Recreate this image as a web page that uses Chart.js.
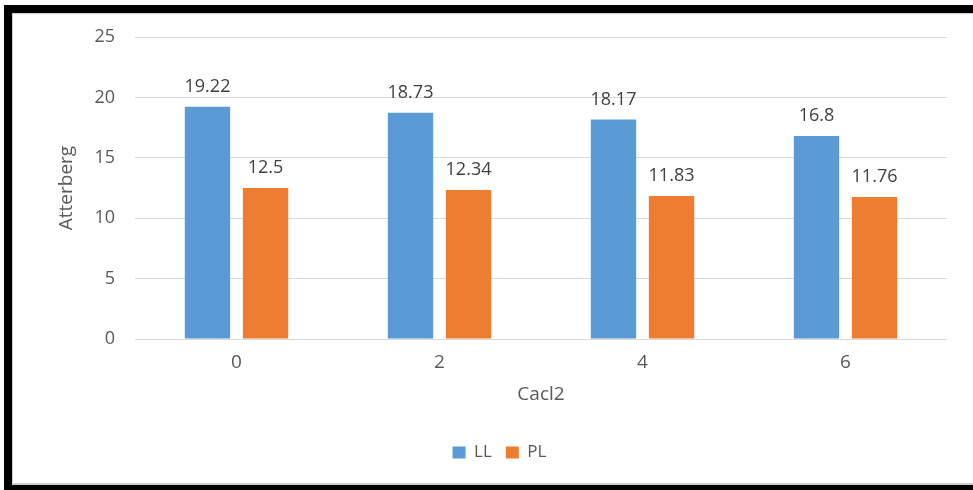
<!DOCTYPE html>
<html><head><meta charset="utf-8">
<script src="https://cdn.jsdelivr.net/npm/chart.js@4"></script>
<style>
html,body{margin:0;padding:0;background:#fff;}
#wrap{position:relative;width:973px;height:490px;overflow:hidden;background:#fff;}
canvas{position:absolute;left:0;top:0;}
#frame{position:absolute;left:4px;top:5px;width:990px;height:485px;box-sizing:border-box;border-top:8px solid #000;border-left:8px solid #000;border-bottom:5px solid #000;box-shadow:inset 1px 1px 0 #d0d0d0, inset 0 -2px 0 #d0d0d0;pointer-events:none;}
</style></head>
<body><div id="wrap"><canvas id="c" width="973" height="490"></canvas><div id="frame"></div></div>
<script>
const categories = ['0', '2', '4', '6'];
const llValues = [19.22, 18.73, 18.17, 16.8];
const plValues = [12.5, 12.34, 11.83, 11.76];
const seriesNames = ['LL', 'PL'];
const yAxisTitle = 'Atterberg';
const xAxisTitle = 'Cacl2';
const yMin = 0, yMax = 25, yStep = 5;

const FONT = '"Open Sans", "Noto Sans", sans-serif';
const TEXT = '#595959';

const valueLabels = {
  id: 'valueLabels',
  afterDatasetsDraw(chart) {
    const ctx = chart.ctx;
    ctx.save();
    ctx.font = '18px ' + FONT;
    ctx.fillStyle = '#404040';
    ctx.textAlign = 'center';
    ctx.textBaseline = 'alphabetic';
    chart.data.datasets.forEach((ds, i) => {
      const meta = chart.getDatasetMeta(i);
      meta.data.forEach((bar, j) => {
        ctx.fillText(String(ds.data[j]), bar.x, bar.y - 15);
      });
    });
    ctx.restore();
  }
};

new Chart(document.getElementById('c'), {
  type: 'bar',
  data: {
    labels: categories,
    datasets: [
      { label: seriesNames[0], data: llValues, backgroundColor: '#5B9BD5', categoryPercentage: 0.572, barPercentage: 0.781 },
      { label: seriesNames[1], data: plValues, backgroundColor: '#ED7D31', categoryPercentage: 0.572, barPercentage: 0.781 }
    ]
  },
  options: {
    responsive: false,
    animation: false,
    devicePixelRatio: 1,
    layout: { padding: { left: 52, right: 26, top: 37, bottom: 19 } },
    plugins: {
      tooltip: { enabled: false },
      legend: {
        position: 'bottom',
        labels: { boxWidth: 13, boxHeight: 12, padding: 14, color: TEXT, font: { family: FONT, size: 17 } }
      }
    },
    scales: {
      x: {
        grid: { display: false, drawTicks: false },
        border: { display: false },
        ticks: { color: TEXT, padding: 12, font: { family: FONT, size: 19 } },
        title: { display: true, text: xAxisTitle, color: TEXT, font: { family: FONT, size: 19 }, padding: { top: 4, bottom: 24 } },
        afterFit(s) { s.height = 91; }
      },
      y: {
        min: yMin, max: yMax,
        ticks: { stepSize: yStep, color: TEXT, padding: 20, font: { family: FONT, size: 18 } },
        grid: { color: '#d9d9d9', drawTicks: false, lineWidth: 1 },
        border: { display: false },
        title: { display: true, text: yAxisTitle, color: TEXT, font: { family: FONT, size: 19 }, padding: { top: 3, bottom: 0 } },
        afterFit(s) { s.width = 83; }
      }
    }
  },
  plugins: [valueLabels]
});
</script>
</body></html>
